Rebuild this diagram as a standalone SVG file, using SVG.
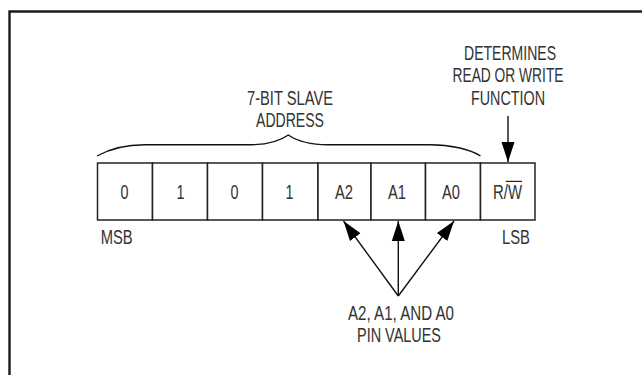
<svg xmlns="http://www.w3.org/2000/svg" width="642" height="375" viewBox="0 0 642 375">
<style>
.t{font-family:"Liberation Sans",Arial,sans-serif;font-size:19.500px;fill:#333;text-anchor:middle}
.l{fill:none;stroke:#111;stroke-width:1.400}
.b{fill:#fff;stroke:#222;stroke-width:1.500}
</style>
<defs>
<marker id="ah" markerUnits="userSpaceOnUse" markerWidth="21" markerHeight="14" refX="20" refY="7" orient="auto"><path d="M0 0.500L20 7L0 13.500z" fill="#000"/></marker>
</defs>
<rect width="642" height="375" fill="#fff"/>
<path id="frame" d="M9.500 376V11.500H642" fill="none" stroke="#1a1a1a" stroke-width="2.400"/>
<g id="bit7"><rect class="b" x="97.500" y="163" width="55" height="57"/><text class="t" x="124.500" y="199" textLength="8" lengthAdjust="spacingAndGlyphs">0</text></g>
<g id="bit6"><rect class="b" x="152.500" y="163" width="55" height="57"/><text class="t" x="180.500" y="199" textLength="8" lengthAdjust="spacingAndGlyphs">1</text></g>
<g id="bit5"><rect class="b" x="207.500" y="163" width="55" height="57"/><text class="t" x="234.500" y="199" textLength="8" lengthAdjust="spacingAndGlyphs">0</text></g>
<g id="bit4"><rect class="b" x="262.500" y="163" width="55.500" height="57"/><text class="t" x="289.500" y="199" textLength="8" lengthAdjust="spacingAndGlyphs">1</text></g>
<g id="bitA2"><rect class="b" x="318" y="163" width="53" height="57"/><text class="t" x="344" y="199" textLength="18" lengthAdjust="spacingAndGlyphs">A2</text></g>
<g id="bitA1"><rect class="b" x="371" y="163" width="54.500" height="57"/><text class="t" x="397" y="199" textLength="18" lengthAdjust="spacingAndGlyphs">A1</text></g>
<g id="bitA0"><rect class="b" x="425.500" y="163" width="55" height="57"/><text class="t" x="451" y="199" textLength="18" lengthAdjust="spacingAndGlyphs">A0</text></g>
<g id="bitRW"><rect class="b" x="480.500" y="163" width="54.500" height="57"/><text class="t" x="507.500" y="199" textLength="29" lengthAdjust="spacingAndGlyphs">R/W</text><path d="M505.700 181.400H522" stroke="#222" stroke-width="1.200"/></g>
<g id="msb"><text class="t" x="116.700" y="244" textLength="32" lengthAdjust="spacingAndGlyphs">MSB</text></g>
<g id="lsb"><text class="t" x="516" y="244" textLength="28" lengthAdjust="spacingAndGlyphs">LSB</text></g>
<g id="label-address"><text class="t" x="290" y="105" textLength="86" lengthAdjust="spacingAndGlyphs">7-BIT SLAVE</text><text class="t" x="290" y="127" textLength="68" lengthAdjust="spacingAndGlyphs">ADDRESS</text></g>
<g id="label-rw"><text class="t" x="510" y="60" textLength="92" lengthAdjust="spacingAndGlyphs">DETERMINES</text><text class="t" x="508" y="82" textLength="111" lengthAdjust="spacingAndGlyphs">READ OR WRITE</text><text class="t" x="508" y="105" textLength="74" lengthAdjust="spacingAndGlyphs">FUNCTION</text></g>
<g id="label-pins"><text class="t" x="401" y="320" textLength="106" lengthAdjust="spacingAndGlyphs">A2, A1, AND A0</text><text class="t" x="399" y="342" textLength="84" lengthAdjust="spacingAndGlyphs">PIN VALUES</text></g>
<g id="connectors">
<path class="l" d="M97 156C111 148 125 144.700 145 144.700H250C268 144.700 280 141 288.300 135C297 141 310 144.700 328 144.700H430C450 144.700 470 149 480.500 156"/>
<path class="l" d="M508 116V162" marker-end="url(#ah)"/>
<path class="l" d="M398.300 296V221" marker-end="url(#ah)"/>
<path class="l" d="M398.300 296L343.500 221" marker-end="url(#ah)"/>
<path class="l" d="M398.300 296L454 221" marker-end="url(#ah)"/>
</g>
</svg>
